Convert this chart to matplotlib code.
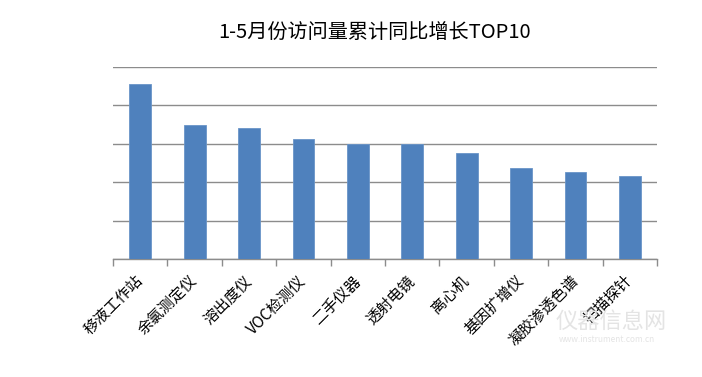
import numpy as np
import matplotlib.pyplot as plt

plt.rcParams['font.family'] = ['Noto Sans CJK SC', 'DejaVu Sans']

categories = ['移液工作站', '余氯测定仪', '溶出度仪', 'VOC检测仪', '二手仪器',
              '透射电镜', '离心机', '基因扩增仪', '凝胶渗透色谱', '扫描探针']
values = [4.55, 3.48, 3.41, 3.13, 3.0, 3.0, 2.76, 2.38, 2.26, 2.16]
grid_levels = [0, 1, 2, 3, 4, 5]

fig = plt.figure(figsize=(7.02, 3.77), dpi=100)
ax = fig.add_axes([0.161, 0.313, 0.775, 0.509])

x = np.arange(len(categories))
ax.bar(x, values, width=0.4, color='#4F81BD', edgecolor='#6A95C8', linewidth=0.6, zorder=3)

ax.set_xlim(-0.5, len(categories) - 0.5)
ax.set_ylim(grid_levels[0], grid_levels[-1])
ax.set_yticks(grid_levels)
ax.yaxis.grid(True, color='#8C8C8C', linewidth=1.0, zorder=0)
ax.tick_params(axis='y', left=False, labelleft=False)

for s in ['top', 'right', 'left']:
    ax.spines[s].set_visible(False)
ax.spines['bottom'].set_color('#8C8C8C')
ax.spines['bottom'].set_linewidth(1.0)

ax.set_xticks(x)
ax.set_xticklabels(categories, rotation=45, ha='right', va='center',
                   rotation_mode='anchor', fontsize=11)
ax.tick_params(axis='x', which='major', length=0, pad=14)
ax.set_xticks(np.arange(-0.5, len(categories)), minor=True)
ax.tick_params(axis='x', which='minor', length=5, color='#8C8C8C', width=1.0, direction='out')

fig.text(0.533, 0.915, '1-5月份访问量累计同比增长TOP10', ha='center', va='center', fontsize=14.5)

# 水印
fig.text(0.87, 0.147, '仪器信息网', ha='center', va='center', fontsize=16, color='#E4E4E4', zorder=0)
fig.text(0.865, 0.10, 'www.instrument.com.cn', ha='center', va='center', fontsize=6, color='#E4E4E4', zorder=0)

fig.savefig('out.png', dpi=100)
